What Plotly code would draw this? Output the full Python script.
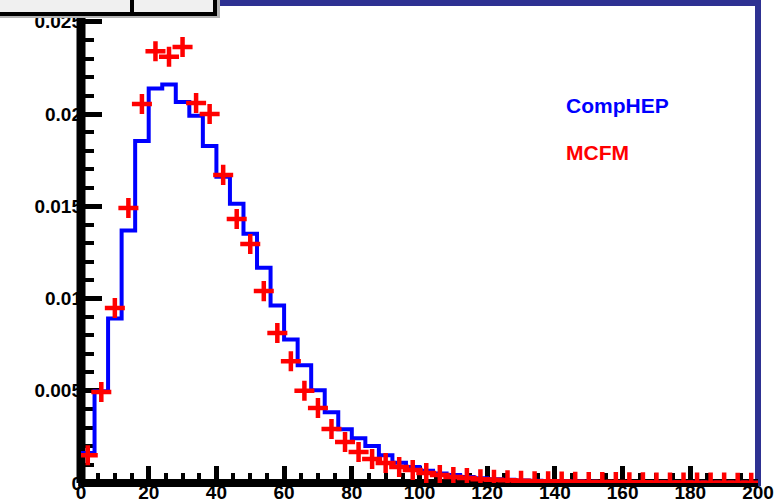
import plotly.graph_objects as go

# 4-GeV bins from 0 to 200
bin_width = 4
n_bins = 50

comphep = [0.00162, 0.00497, 0.00892, 0.01368, 0.01854, 0.02138, 0.02160, 0.02065, 0.01990, 0.01827,
           0.01660, 0.01513, 0.01351, 0.01167, 0.00962, 0.00778, 0.00638, 0.00503, 0.00384, 0.00292,
           0.00243, 0.00200, 0.00151, 0.00110, 0.00087, 0.00066, 0.00052, 0.00043, 0.00033, 0.00026,
           0.00021, 0.00017, 0.00014, 0.00012, 0.00010, 0.00009, 0.00008, 0.00007, 0.00006, 0.00005,
           0.00005, 0.00004, 0.00004, 0.00003, 0.00003, 0.00003, 0.00002, 0.00002, 0.00002, 0.00002]

mcfm = [0.00151, 0.00493, 0.00948, 0.01491, 0.02054, 0.02340, 0.02310, 0.02363, 0.02060, 0.02000,
        0.01670, 0.01431, 0.01295, 0.01040, 0.00813, 0.00660, 0.00500, 0.00407, 0.00293, 0.00222,
        0.00168, 0.00130, 0.00108, 0.00087, 0.00070, 0.00054, 0.00043, 0.00033, 0.00027, 0.00020,
        0.00018, 0.00015, 0.00012, 0.00010, 0.00009, 0.00008, 0.00007, 0.00006, 0.00005, 0.00005,
        0.00004, 0.00004, 0.00003, 0.00003, 0.00003, 0.00002, 0.00002, 0.00002, 0.00001, 0.00001]

y_tickvals = [0, 0.005, 0.01, 0.015, 0.02, 0.025]
y_ticktext = ["0", "0.005", "0.01", "0.015", "0.02", "0.025"]
x_tickvals = [0, 20, 40, 60, 80, 100, 120, 140, 160, 180, 200]
x_ticktext = ["0", "20", "40", "60", "80", "100", "120", "140", "160", "180", "200"]

edges = [i * bin_width for i in range(n_bins + 1)]
centers = [(edges[i] + edges[i + 1]) / 2 for i in range(n_bins)]

W, H = 781, 502
L, R, T, B = 81, 23, 3, 19
ymax = 0.026016

fig = go.Figure()
fig.add_trace(go.Scatter(
    x=edges, y=comphep + [comphep[-1]], mode="lines", line_shape="hv",
    line=dict(color="#0000ff", width=4), name="CompHEP", showlegend=False))
fig.add_trace(go.Scatter(
    x=centers, y=mcfm, mode="markers", name="MCFM", showlegend=False,
    marker=dict(symbol="cross-thin", size=14.3, color="#ff0000",
                line=dict(color="#ff0000", width=4.5))))

font = dict(family="Liberation Sans, Arial, sans-serif", size=19, color="black", weight="bold")

fig.update_xaxes(range=[0, 200], showgrid=False, zeroline=False, showline=False,
                 tickmode="array", tickvals=x_tickvals, ticktext=x_ticktext,
                 ticks="inside", ticklen=17, tickwidth=5, tickcolor="black",
                 minor=dict(dtick=5, ticks="inside", ticklen=10, tickwidth=4, tickcolor="black"),
                 tickfont=font, layer="below traces", ticklabelstandoff=-4, automargin=False)
fig.update_yaxes(range=[0, ymax], showgrid=False, zeroline=False, showline=False,
                 tickmode="array", tickvals=y_tickvals, ticktext=y_ticktext,
                 ticks="inside", ticklen=21, tickwidth=5, tickcolor="black",
                 minor=dict(dtick=0.001, ticks="inside", ticklen=13, tickwidth=4, tickcolor="black"),
                 tickfont=font, layer="below traces", ticklabelstandoff=-2, automargin=False)

navy = "#2e3192"
shapes = [
    # frame
    dict(type="rect", xref="x domain", yref="y domain", x0=0, x1=1, y0=0, y1=1,
         line=dict(color=navy, width=6), layer="below"),
    # thick axis lines
    dict(type="line", xref="x domain", yref="y domain", x0=0, x1=0, y0=0, y1=1,
         line=dict(color="black", width=9), layer="below"),
    dict(type="line", xref="x domain", yref="y domain", x0=0, x1=1, y0=0, y1=0,
         line=dict(color="black", width=8), layer="below"),
]

def px_x(p):
    return (p - L) / (W - L - R)

def px_y(p):
    return (H - B - p) / (H - T - B)

# cut-off title / stat boxes at top-left
shapes += [
    dict(type="rect", xref="paper", yref="paper", x0=px_x(0), x1=px_x(218), y0=px_y(18), y1=px_y(14),
         fillcolor="#b4b4b4", line=dict(width=0), layer="above"),
    dict(type="rect", xref="paper", yref="paper", x0=px_x(-5), x1=px_x(132), y0=px_y(14), y1=px_y(-10),
         fillcolor="#f0f0f0", line=dict(color="black", width=4), layer="above"),
    dict(type="rect", xref="paper", yref="paper", x0=px_x(132), x1=px_x(215), y0=px_y(14), y1=px_y(-10),
         fillcolor="#f0f0f0", line=dict(color="black", width=4), layer="above"),
    dict(type="rect", xref="paper", yref="paper", x0=px_x(217), x1=px_x(220), y0=px_y(18), y1=px_y(-5),
         fillcolor="#b4b4b4", line=dict(width=0), layer="above"),
]

annotations = [
    dict(text="CompHEP", x=px_x(564), y=px_y(105), xref="paper", yref="paper",
         xanchor="left", yanchor="middle", showarrow=False,
         font=dict(family="Liberation Sans, Arial, sans-serif", size=21, color="#0000ff", weight="bold")),
    dict(text="MCFM", x=px_x(564), y=px_y(152), xref="paper", yref="paper",
         xanchor="left", yanchor="middle", showarrow=False,
         font=dict(family="Liberation Sans, Arial, sans-serif", size=21, color="#ff0000", weight="bold")),
]

fig.update_layout(width=W, height=H, margin=dict(l=L, r=R, t=T, b=B, pad=0, autoexpand=False),
                  paper_bgcolor="white", plot_bgcolor="white",
                  shapes=shapes, annotations=annotations, showlegend=False)

fig.write_html("out.html")
